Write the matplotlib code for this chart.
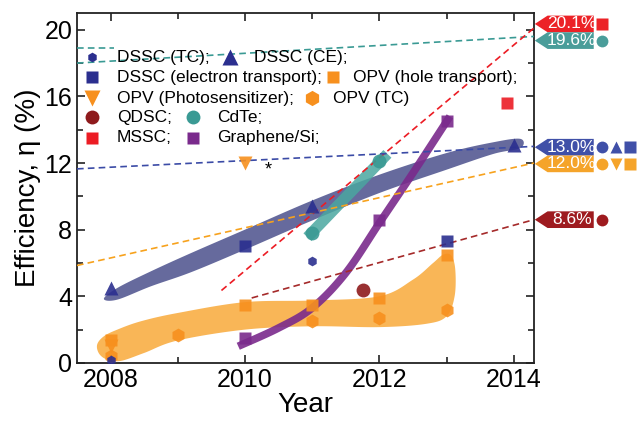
import numpy as np
import matplotlib.pyplot as plt
from matplotlib.patches import Polygon
from matplotlib.ticker import MultipleLocator
import matplotlib.transforms as mtransforms

plt.rcParams['font.family'] = ['Liberation Sans', 'DejaVu Sans']

# colours
navy = '#2b2f8f'
orange = '#f7901e'
dred = '#8e1a1c'
teal = '#3a9a94'
red = '#ec1c24'
purple = '#7a2a8c'

# ---- marker data (year, efficiency %) ----
dssc_tc_x = [2008, 2011]
dssc_tc_y = [0.15, 6.1]
dssc_ce_x = [2008, 2011, 2014]
dssc_ce_y = [4.5, 9.4, 13.1]
dssc_et_x = [2010, 2013]
dssc_et_y = [7.0, 7.3]
opv_ht_x = [2008, 2010, 2011, 2012, 2013]
opv_ht_y = [1.4, 3.5, 3.5, 3.9, 6.5]
opv_ps_x = [2008, 2010]
opv_ps_y = [1.0, 12.0]
opv_tc_x = [2008, 2009, 2011, 2012, 2013]
opv_tc_y = [0.4, 1.7, 2.5, 2.7, 3.2]
qdsc_x = [2011.75]
qdsc_y = [4.4]
cdte_x = [2011, 2012]
cdte_y = [7.8, 12.1]
mssc_x = [2013.9]
mssc_y = [15.6]
gsi_x = [2010, 2012, 2013]
gsi_y = [1.5, 8.6, 14.5]

# ---- trend bands (outline points) ----
dssc_band_x = [2007.9, 2008.1, 2008.6, 2009.2, 2010, 2011, 2012, 2013, 2013.7, 2014.1,
               2014.1, 2013.7, 2013, 2012, 2011, 2010, 2009.2, 2008.6, 2008.1]
dssc_band_y = [3.85, 4.5, 5.5, 6.6, 8.0, 9.75, 11.3, 12.6, 13.25, 13.45,
               12.9, 12.55, 11.6, 10.2, 8.55, 6.8, 5.45, 4.6, 3.8]

opv_band_x = [2007.8, 2007.9, 2008.1, 2008.45, 2009, 2010, 2011, 2012, 2012.5,
              2012.8, 2012.95, 2013.07, 2013.13, 2013.12, 2013.0, 2012.7, 2012.0, 2011,
              2010, 2009, 2008.5, 2008.15, 2007.95, 2007.83]
opv_band_y = [1.1, 1.6, 2.0, 2.5, 3.0, 3.65, 3.75, 4.0, 5.0,
              6.0, 6.5, 6.45, 5.6, 4.0, 2.8, 2.35, 2.15, 2.2,
              2.0, 1.35, 0.6, 0.12, 0.2, 0.55]

cdte_band_x = [2010.93, 2012.12]
cdte_band_y = [7.55, 12.55]

gsi_curve_x = [2009.9, 2010.5, 2011, 2011.5, 2012, 2012.5, 2013.05]
gsi_curve_y = [1.0, 2.1, 3.3, 5.4, 8.4, 11.4, 14.8]

# ---- dashed projections ----
teal_dash_x = [2007.5, 2014.3]
teal_dash_y = [18.0, 19.6]
teal_short_x = [2007.5, 2008.05]
teal_short_y = [18.9, 18.9]
red_dash_x = [2009.65, 2014.3]
red_dash_y = [4.35, 20.1]
blue_dash_x = [2007.5, 2014.3]
blue_dash_y = [11.65, 13.0]
orange_dash_x = [2007.5, 2014.3]
orange_dash_y = [5.85, 12.0]
dred_dash_x = [2010.1, 2014.3]
dred_dash_y = [3.9, 8.6]

# ---- right-hand record labels ----
rec_text = ['20.1%', '19.6%', '13.0%', '12.0%', '8.6%']
rec_y = [20.35, 19.35, 12.95, 11.95, 8.6]
rec_col = ['#ec2227', '#4a9d9a', '#4050a8', '#f5a42a', '#9e1b1f']
rec_marks = [['s'], ['o'], ['o', '^', 's'], ['o', 'v', 's'], ['o']]


def catmull(px, py, closed=False, n=20):
    # smooth a list of outline points (Catmull-Rom)
    p = np.column_stack([px, py]).astype(float)
    if closed:
        p = np.vstack([p[-1], p, p[0], p[1]])
    else:
        p = np.vstack([p[0], p, p[-1]])
    out = []
    t = np.linspace(0, 1, n, endpoint=False)[:, None]
    for i in range(1, len(p) - 2):
        p0, p1, p2, p3 = p[i - 1], p[i], p[i + 1], p[i + 2]
        seg = 0.5 * ((2 * p1) + (-p0 + p2) * t + (2 * p0 - 5 * p1 + 4 * p2 - p3) * t ** 2
                     + (-p0 + 3 * p1 - 3 * p2 + p3) * t ** 3)
        out.append(seg)
    if not closed:
        out.append(p[-2][None, :])
    return np.vstack(out)


fig = plt.figure(figsize=(6.39, 4.23), dpi=100)
ax = fig.add_axes([0.1205, 0.142, 0.715, 0.827])

# bands
ax.add_patch(Polygon(catmull(dssc_band_x, dssc_band_y, closed=True), closed=True,
                     fc='#555a93', ec='none', alpha=0.9, zorder=2))
ax.add_patch(Polygon(catmull(opv_band_x, opv_band_y, closed=True), closed=True,
                     fc='#f8a93a', ec='none', alpha=0.85, zorder=1))
ax.plot(cdte_band_x, cdte_band_y, color='#4aa7a0', lw=8, alpha=0.85, solid_capstyle='butt', zorder=3)
g = catmull(gsi_curve_x, gsi_curve_y)
ax.plot(g[:, 0], g[:, 1], color=purple, lw=5.5, alpha=0.9, solid_capstyle='butt', zorder=3)

# dashed lines
dkw = dict(lw=1.2, dashes=(4, 2.5), zorder=4, clip_on=False)
ax.plot(teal_dash_x, teal_dash_y, color=teal, **dkw)
ax.plot(teal_short_x, teal_short_y, color=teal, **dkw)
ax.plot(red_dash_x, red_dash_y, color=red, **dkw)
ax.plot(blue_dash_x, blue_dash_y, color='#3b4ba6', **dkw)
ax.plot(orange_dash_x, orange_dash_y, color='#f7a21d', **dkw)
ax.plot(dred_dash_x, dred_dash_y, color='#a52a2a', **dkw)

# markers
series = [
    (opv_tc_x, opv_tc_y, 'h', orange, 10),
    (opv_ht_x, opv_ht_y, 's', orange, 9),
    (opv_ps_x, opv_ps_y, 'v', orange, 10),
    (dssc_tc_x, dssc_tc_y, 'h', navy, 7),
    (dssc_ce_x, dssc_ce_y, '^', navy, 10),
    (dssc_et_x, dssc_et_y, 's', navy, 9),
    (qdsc_x, qdsc_y, 'o', dred, 10),
    (cdte_x, cdte_y, 'o', teal, 10),
    (mssc_x, mssc_y, 's', red, 9),
    (gsi_x, gsi_y, 's', purple, 9),
]
for sx, sy, m, c, ms in series:
    ax.plot(sx, sy, ls='none', marker=m, color=c, ms=ms, mec='none', alpha=0.9, zorder=5)

ax.text(opv_ps_x[1] + 0.35, opv_ps_y[1] - 0.4, '*', fontsize=13, ha='center', va='center', zorder=6)

# legend drawn by hand
leg = [
    (0.033, 0.874, 'h', navy, 7, 0.0875, 'DSSC (TC);'),
    (0.335, 0.874, '^', navy, 11, 0.387, 'DSSC (CE);'),
    (0.033, 0.817, 's', navy, 9, 0.0875, 'DSSC (electron transport);'),
    (0.560, 0.817, 's', orange, 9, 0.604, 'OPV (hole transport);'),
    (0.033, 0.757, 'v', orange, 11, 0.0875, 'OPV (Photosensitizer);'),
    (0.514, 0.757, 'h', orange, 11, 0.560, 'OPV (TC)'),
    (0.033, 0.703, 'o', dred, 10, 0.0875, 'QDSC;'),
    (0.254, 0.703, 'o', teal, 10, 0.306, 'CdTe;'),
    (0.033, 0.643, 's', red, 9, 0.0875, 'MSSC;'),
    (0.254, 0.643, 's', purple, 9, 0.306, 'Graphene/Si;'),
]
for mx, my, m, c, ms, tx, label in leg:
    ax.plot([mx], [my], marker=m, color=c, ms=ms, mec='none', transform=ax.transAxes, zorder=6)
    ax.text(tx, my, label, transform=ax.transAxes, fontsize=12.5, va='center', ha='left', zorder=6)

# record flags on the right
trans = mtransforms.blended_transform_factory(ax.transAxes, ax.transData)
h = 0.5
for txt, yv, c, marks in zip(rec_text, rec_y, rec_col, rec_marks):
    poly = [(1.002, yv), (1.03, yv + h), (1.131, yv + h), (1.131, yv - h), (1.03, yv - h)]
    ax.add_patch(Polygon(poly, closed=True, fc=c, ec='none', transform=trans, clip_on=False, zorder=6))
    ax.text(1.083, yv, txt, color='white', fontsize=12.5, ha='center', va='center',
            transform=trans, clip_on=False, zorder=7)
    for i, m in enumerate(marks):
        ax.plot([1.15 + i * 0.03], [yv], marker=m, color=c, ms=8.5, mec='none',
                transform=trans, clip_on=False, zorder=7)

ax.set_xlim(2007.5, 2014.3)
ax.set_ylim(0, 21)
ax.xaxis.set_major_locator(MultipleLocator(2))
ax.xaxis.set_minor_locator(MultipleLocator(1))
ax.yaxis.set_major_locator(MultipleLocator(4))
ax.yaxis.set_minor_locator(MultipleLocator(2))
ax.tick_params(which='both', direction='in', top=True, right=True, labelsize=18, width=1.2, color='#222222')
ax.tick_params(which='major', length=6)
ax.tick_params(which='minor', length=4)
for s in ax.spines.values():
    s.set_linewidth(1.3)
    s.set_color('#222222')
ax.set_xlabel('Year', fontsize=20, labelpad=0)
ax.set_ylabel('Efficiency, η (%)', fontsize=20, labelpad=2)

fig.savefig('out.png', dpi=100)
